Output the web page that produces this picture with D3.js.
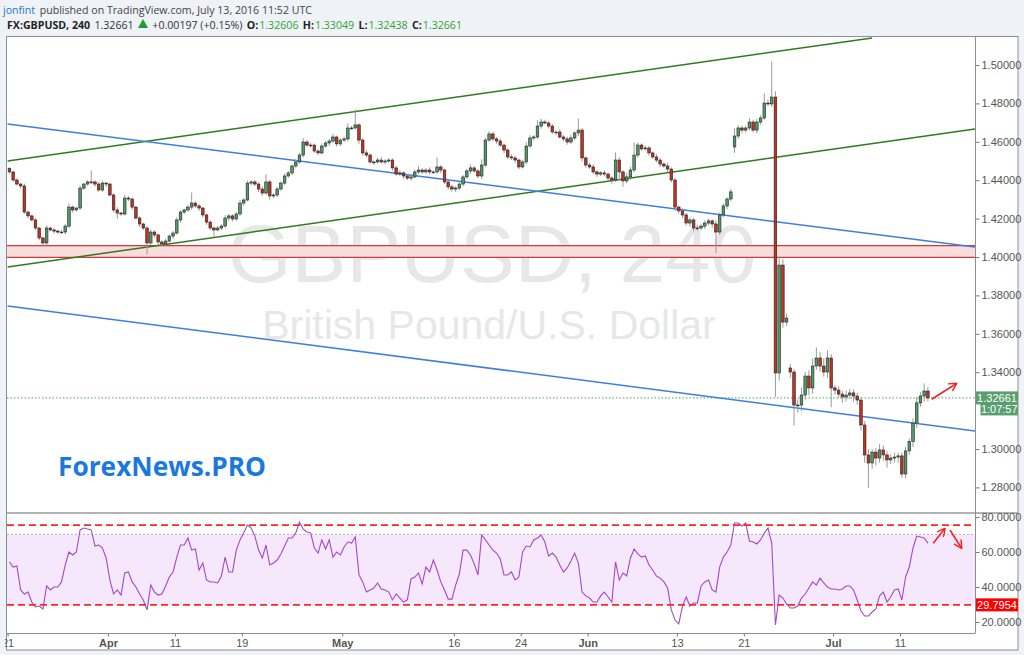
<!DOCTYPE html>
<html><head><meta charset="utf-8">
<script src="https://cdn.jsdelivr.net/npm/d3@7"></script>
<style>
html,body{margin:0;padding:0;background:#eff2f6;}
svg{display:block;font-family:"Liberation Sans",Arial,sans-serif;}
</style></head><body>
<svg id="c" width="1024" height="655"></svg>
<script>
// ---------------- DATA ----------------
const barsPerDay = 3;           // candles per trading day
const firstOpen = 1.4460;
const closes = [
1.4443,1.4401,1.4380,1.4370,1.4234,1.4214,1.4193,1.4151,1.4099,1.4073,
1.4151,1.4141,1.4135,1.4130,1.4130,1.4161,1.4260,1.4245,1.4255,1.4359,
1.4380,1.4391,1.4391,1.4380,1.4349,1.4385,1.4380,1.4323,1.4245,1.4229,
1.4224,1.4307,1.4302,1.4260,1.4203,1.4172,1.4151,1.4073,1.4130,1.4115,
1.4078,1.4068,1.4083,1.4109,1.4125,1.4193,1.4234,1.4245,1.4260,1.4281,
1.4266,1.4255,1.4219,1.4182,1.4151,1.4141,1.4151,1.4161,1.4203,1.4214,
1.4198,1.4224,1.4281,1.4297,1.4385,1.4391,1.4380,1.4354,1.4333,1.4391,
1.4318,1.4323,1.4354,1.4385,1.4422,1.4438,1.4474,1.4495,1.4531,1.4599,
1.4583,1.4583,1.4552,1.4542,1.4578,1.4594,1.4604,1.4625,1.4589,1.4609,
1.4615,1.4672,1.4672,1.4688,1.4609,1.4542,1.4531,1.4495,1.4495,1.4505,
1.4495,1.4500,1.4505,1.4464,1.4432,1.4438,1.4422,1.4411,1.4417,1.4443,
1.4453,1.4443,1.4453,1.4443,1.4443,1.4469,1.4453,1.4391,1.4365,1.4354,
1.4359,1.4380,1.4417,1.4448,1.4464,1.4448,1.4422,1.4479,1.4609,1.4641,
1.4615,1.4604,1.4583,1.4557,1.4521,1.4516,1.4505,1.4469,1.4495,1.4578,
1.4620,1.4625,1.4682,1.4703,1.4698,1.4682,1.4651,1.4651,1.4625,1.4615,
1.4599,1.4620,1.4646,1.4661,1.4516,1.4479,1.4469,1.4443,1.4432,1.4438,
1.4432,1.4411,1.4401,1.4505,1.4443,1.4396,1.4417,1.4453,1.4531,1.4583,
1.4563,1.4568,1.4542,1.4521,1.4505,1.4484,1.4474,1.4458,1.4401,1.4260,
1.4240,1.4219,1.4177,1.4193,1.4151,1.4151,1.4161,1.4177,1.4188,1.4172,
1.4130,1.4219,1.4266,1.4302,1.4339,1.4630,1.4672,1.4661,1.4672,1.4703,
1.4661,1.4703,1.4724,1.4802,1.4797,1.4833,1.3396,1.3958,1.3661,1.3682,
1.3401,1.3229,1.3229,1.3281,1.3380,1.3318,1.3432,1.3474,1.3432,1.3401,
1.3474,1.3318,1.3307,1.3286,1.3271,1.3281,1.3292,1.3276,1.3255,1.3125,
1.2969,1.2927,1.2984,1.2953,1.2995,1.2969,1.2943,1.2953,1.2958,1.2964,
1.2870,1.2990,1.3040,1.3135,1.3240,1.3276,1.3302,1.3266];
// weekend gap opens [candle index, open]
const gapOpens = [[195,1.4573],[210,1.3422]];
// wick extension beyond the body, in pips
const hiExt = [
8,6,10,5,12,7,6,9,5,8,14,6,9,7,10,12,18,8,6,14,
7,9,60,8,10,12,6,8,9,14,7,16,10,8,6,9,7,8,14,10,
6,9,12,8,10,14,9,7,11,55,8,10,7,6,9,8,12,10,14,9,
8,11,16,9,12,8,10,9,14,40,10,8,12,9,14,10,8,16,11,20,
9,12,8,10,14,9,11,16,8,10,12,24,10,80,8,10,14,9,8,12,
16,9,10,8,12,14,9,10,8,12,20,9,10,14,8,50,10,8,9,12,
10,14,9,12,18,8,10,30,12,14,9,10,12,8,9,14,10,8,12,20,
14,10,30,16,12,9,10,8,14,10,12,16,9,60,10,8,12,14,9,10,
12,8,10,40,14,10,20,16,65,14,9,12,10,8,14,12,10,16,9,12,
8,14,10,12,9,16,10,14,12,9,20,12,14,10,16,40,14,12,10,20,
12,16,14,50,18,185,30,40,30,24,20,16,30,40,20,30,40,55,30,40,
40,20,16,20,18,24,20,18,16,14,20,30,16,20,30,24,20,18,22,16,
18,20,16,24,30,20,40,20];
const loExt = [
6,10,8,12,9,14,8,10,12,20,9,8,14,10,8,12,10,14,9,8,
10,8,12,14,9,10,16,8,12,30,10,8,12,14,9,16,10,60,12,14,
16,12,10,8,14,9,12,10,8,14,10,16,12,14,10,35,8,12,10,14,
12,9,10,14,8,12,10,16,14,9,20,10,12,8,10,9,12,10,8,12,
10,14,9,12,8,10,16,9,14,10,8,12,10,9,20,14,12,10,16,9,
8,12,10,14,9,12,16,10,14,8,12,10,9,14,10,12,16,10,14,12,
16,10,12,8,14,10,12,16,10,9,12,14,10,16,12,10,14,12,8,10,
9,12,10,14,8,12,10,16,9,12,14,10,12,16,20,14,10,12,16,10,
12,14,20,10,45,30,12,16,10,14,12,9,14,10,12,16,10,14,12,20,
14,16,12,20,18,14,10,16,12,20,110,14,12,16,10,30,14,16,12,14,
12,16,14,10,12,16,125,40,30,20,30,107,40,30,24,40,30,20,30,24,
30,100,24,20,30,24,20,30,24,30,40,129,30,40,24,30,40,20,24,30,
20,24,20,30,24,20,30,18];
const rsi = [
54.3,51.4,52.0,38.3,36.0,37.1,31.4,28.6,29.1,27.4,
40.6,38.3,40.0,40.0,42.9,52.6,60.0,58.3,60.0,72.6,
73.7,73.1,72.6,63.4,64.0,62.3,56.6,44.0,36.0,38.3,
35.4,48.0,48.6,42.9,40.0,36.0,32.6,26.9,41.1,37.1,
35.4,36.0,40.6,45.7,48.6,57.1,64.0,64.0,68.0,61.1,
61.7,49.7,53.7,44.0,42.9,42.9,42.3,46.3,57.1,48.6,
48.6,61.1,66.9,70.9,75.4,73.7,69.1,61.1,56.6,64.0,
52.6,53.7,55.4,58.9,63.4,68.0,68.0,70.9,77.1,73.1,
71.4,70.9,62.3,59.4,66.9,61.7,66.9,57.1,60.0,58.3,
62.9,65.7,65.1,68.6,46.9,42.9,37.1,38.3,39.4,42.3,
38.9,38.3,37.1,32.6,36.0,33.7,31.4,32.6,44.6,45.7,
48.0,41.7,51.4,48.6,55.4,49.7,42.9,38.3,33.1,33.1,
41.1,47.4,61.1,61.1,58.3,53.1,46.9,69.7,66.9,64.0,
61.1,59.4,56.0,46.9,46.9,48.6,44.0,45.7,60.0,63.4,
62.9,66.9,68.0,69.7,65.7,57.7,59.4,57.1,52.6,48.6,
50.9,54.9,59.4,53.7,37.1,34.9,33.7,31.4,31.4,34.9,
37.1,34.3,31.4,54.3,44.0,48.0,46.3,56.6,61.7,58.9,
57.1,57.7,52.6,49.7,46.3,45.1,42.9,39.4,26.9,21.1,
18.9,29.1,34.3,29.1,30.9,30.9,40.6,42.9,44.0,38.3,
37.1,51.4,57.1,60.0,64.0,76.6,76.6,74.9,76.6,66.3,
65.7,64.6,66.9,70.9,73.7,65.1,18.3,35.4,33.7,30.3,
28.0,28.0,29.1,33.7,36.0,39.4,42.9,41.1,45.1,42.3,
40.0,38.9,38.9,38.3,38.9,40.6,40.6,38.3,32.6,26.3,
23.4,23.4,25.7,27.4,34.9,37.1,31.4,34.3,38.3,38.9,
32.6,45.7,51.4,62.3,69.1,68.6,68.0,65.1];

// x-axis ticks (trading-day index) and labels
const tickDays   = [0, 9, 15, 21, 30, 40, 46, 52, 60, 66, 74, 80];
const tickLabels = ["21","Apr","11","19","May","16","24","Jun","13","21","Jul","11"];
const monthTicks = ["Apr","May","Jun","Jul"];
// 1.32000 is hidden behind the countdown label in the reference
const priceTicks = [1.28,1.30,1.34,1.36,1.38,1.40,1.42,1.44,1.46,1.48,1.50];
const rsiTicks = [20,40,60,80];

// header segments: [text, bold, colour]
const publishParts = [["jonfint",0,"#2a79c4"],["published on TradingView.com, July 13, 2016 11:52 UTC",0,"#444"]];
const quoteParts = [
  ["FX:GBPUSD, 240",1,"#222"],["1.32661",0,"#333"],["TRI",0,"#1f9e2c"],["+0.00197 (+0.15%)",0,"#333"],
  ["O:",1,"#222"],["1.32606",0,"#2aa52a"],["H:",1,"#222"],["1.33049",0,"#2aa52a"],
  ["L:",1,"#222"],["1.32438",0,"#2aa52a"],["C:",1,"#222"],["1.32661",0,"#2aa52a"]];

// drawings: [day, price]
const greenUpper = [[0,1.4500],[77.5,1.5141]];
const greenLower = [[0,1.3948],[86.72,1.4667]];
const blueUpper  = [[0,1.4693],[86.72,1.4052]];
const blueLower  = [[0,1.3745],[86.72,1.3094]];
const zone = [1.3998, 1.4059];
const lastPrice = 1.32661;
const rsiLevels = [75.4, 29.7954];
const rsiBand = [30, 70];
const arrowMain = [[82.84,1.3259],[85.08,1.3342]];
const arrowRsiUp = [[82.98,65.0],[84.03,73.5]];
const arrowRsiDown = [[84.48,72.6],[85.53,62.1]];

// ---------------- LAYOUT ----------------
const L = 7, R = 975, T = 37, MB = 512, RT = 514, RB = 633;
const svg = d3.select("#c");
const x  = d3.scaleLinear().domain([9, 80]).range([108, 900]);
const y  = d3.scaleLinear().domain([1.28, 1.50]).range([487.4, 65]);
const yr = d3.scaleLinear().domain([20, 80]).range([622, 517]);

// frame
svg.append("rect").attr("x",6.5).attr("y",36.5).attr("width",1011.5).attr("height",613.5)
  .attr("fill","#fff").attr("stroke","#8e8e8e");

const defs = svg.append("defs");
defs.append("clipPath").attr("id","cm").append("rect").attr("x",L).attr("y",T).attr("width",R-L).attr("height",MB-T);
defs.append("clipPath").attr("id","cr").append("rect").attr("x",L).attr("y",RT).attr("width",R-L).attr("height",RB-RT);
defs.append("clipPath").attr("id","cx").append("rect").attr("x",5).attr("y",RB).attr("width",1013).attr("height",17);
defs.append("marker").attr("id","ah").attr("viewBox","0 0 10 10").attr("refX",9).attr("refY",5)
  .attr("markerWidth",9).attr("markerHeight",9).attr("orient","auto").attr("markerUnits","userSpaceOnUse")
  .append("path").attr("d","M0,0 L9,5 L0,10").attr("fill","none").attr("stroke","#ff1a1a").attr("stroke-width",1.6);

// header: lay segments out one after another, scaled to span x0..x1
const hdr = svg.append("g").attr("font-family","'Open Sans','Noto Sans',sans-serif");
function headerLine(parts, x0, x1, yb, gap){
  const triW = 10; let fs = 12;
  const nodes = parts.map(p => p[0]==="TRI" ? null :
    hdr.append("text").attr("y",yb).attr("font-size",fs).attr("font-weight",p[1]?"bold":"normal")
      .attr("fill",p[2]).text(p[0]));
  const widths = () => nodes.map(n => n ? n.node().getComputedTextLength() : triW);
  const joinGap = i => parts[i][0].endsWith(":") ? 1 : gap;
  const gapsSum = parts.slice(0,-1).reduce((a,_,i)=>a+joinGap(i),0);
  let w = widths();
  fs = fs * (x1-x0-gapsSum) / w.reduce((a,b)=>a+b,0);
  nodes.forEach(n=>n && n.attr("font-size",fs));
  w = widths();
  const spare = (x1-x0) - w.reduce((a,b)=>a+b,0);
  let cx = x0;
  parts.forEach((p,i)=>{
    if (nodes[i]) nodes[i].attr("x",cx);
    else hdr.append("path").attr("d",`M${cx},${yb-0.5} L${cx+triW},${yb-0.5} L${cx+triW/2},${yb-9.5} Z`).attr("fill",p[2]);
    cx += w[i] + (i < parts.length-1 ? joinGap(i)*spare/gapsSum : 0);
  });
}
headerLine(publishParts, 3, 312, 14, 4);
headerLine(quoteParts, 7, 462, 28.5, 4.5);

// ---------------- MAIN PANEL ----------------
const gm = svg.append("g").attr("clip-path","url(#cm)");
gm.append("text").attr("x",492).attr("y",282).attr("text-anchor","middle").attr("font-size",82)
  .attr("fill","#e7e7e7").text("GBPUSD, 240");
gm.append("text").attr("x",489).attr("y",339).attr("text-anchor","middle").attr("font-size",41)
  .attr("fill","#e7e7e7").text("British Pound/U.S. Dollar");

// zone
gm.append("rect").attr("x",L).attr("width",R-L).attr("y",y(zone[1])).attr("height",y(zone[0])-y(zone[1]))
  .attr("fill","#f9dcdc");
[zone[0],zone[1]].forEach(v=>gm.append("line").attr("x1",L).attr("x2",R).attr("y1",y(v)).attr("y2",y(v))
  .attr("stroke","#d23a3a").attr("stroke-width",1.2));

const lineGen = d3.line().x(d=>x(d[0])).y(d=>y(d[1]));
[[greenUpper,"#2f7a1f"],[greenLower,"#2f7a1f"],[blueUpper,"#3b7fe0"],[blueLower,"#3b7fe0"]].forEach(([pts,c])=>
  gm.append("path").attr("d",lineGen(pts)).attr("fill","none").attr("stroke",c).attr("stroke-width",1.5));

// last price dotted line
gm.append("line").attr("x1",L).attr("x2",R).attr("y1",y(lastPrice)).attr("y2",y(lastPrice))
  .attr("stroke","#4e9a6a").attr("stroke-dasharray","1.5,2").attr("stroke-width",1);

// candles
const candles = closes.map((c,i)=>{
  let o = i===0 ? firstOpen : closes[i-1];
  const g = gapOpens.find(g=>g[0]===i); if (g) o = g[1];
  const hi = Math.max(o,c) + (hiExt[i] ?? 8)/10000;
  const lo = Math.min(o,c) - (loExt[i] ?? 8)/10000;
  return {o,c,hi,lo,day:(i+0.5)/barsPerDay};
});
const bw = 2.6;
const cg = gm.append("g");
cg.selectAll("line.w").data(candles).join("line").attr("class","w")
  .attr("x1",d=>x(d.day)).attr("x2",d=>x(d.day)).attr("y1",d=>y(d.hi)).attr("y2",d=>y(d.lo))
  .attr("stroke","#9a9a9a").attr("stroke-width",1);
cg.selectAll("rect").data(candles).join("rect")
  .attr("x",d=>x(d.day)-bw/2).attr("width",bw)
  .attr("y",d=>y(Math.max(d.o,d.c)))
  .attr("height",d=>Math.max(0.8,Math.abs(y(d.o)-y(d.c))))
  .attr("fill",d=>d.c>=d.o?"#4f9c68":"#c2321f")
  .attr("stroke","#222").attr("stroke-width",0.6);

gm.append("path").attr("d",lineGen(arrowMain)).attr("stroke","#ff1a1a").attr("stroke-width",1.6)
  .attr("fill","none").attr("marker-end","url(#ah)");

// ForexNews
svg.append("text").attr("x",58).attr("y",476).attr("font-family","'Open Sans',sans-serif")
  .attr("font-weight","bold").attr("font-size",26).attr("fill","#1a78e0")
  .attr("textLength",208).attr("lengthAdjust","spacingAndGlyphs").text("ForexNews.PRO");

// ---------------- RSI PANEL ----------------
const gr = svg.append("g").attr("clip-path","url(#cr)");
gr.append("rect").attr("x",L).attr("width",R-L).attr("y",yr(rsiBand[1])).attr("height",yr(rsiBand[0])-yr(rsiBand[1]))
  .attr("fill","#f5e8fc");
gr.append("line").attr("x1",L).attr("x2",R).attr("y1",yr(rsiBand[1])).attr("y2",yr(rsiBand[1]))
  .attr("stroke","#c4adcb").attr("stroke-dasharray","2,2");
const rline = d3.line().x((d,i)=>x((i+0.5)/barsPerDay)).y(d=>yr(d));
gr.append("path").attr("d",rline(rsi)).attr("fill","none").attr("stroke","#a448c4").attr("stroke-width",1.1);
rsiLevels.forEach(v=>gr.append("line").attr("x1",L).attr("x2",R).attr("y1",yr(v)).attr("y2",yr(v))
  .attr("stroke","#ff2626").attr("stroke-width",1.8).attr("stroke-dasharray","7,4"));
const rl = d3.line().x(d=>x(d[0])).y(d=>yr(d[1]));
[arrowRsiUp,arrowRsiDown].forEach(a=>gr.append("path").attr("d",rl(a)).attr("stroke","#ff1a1a")
  .attr("stroke-width",1.6).attr("fill","none").attr("marker-end","url(#ah)"));

// ---------------- AXES ----------------
svg.append("line").attr("x1",6).attr("x2",1018).attr("y1",513).attr("y2",513).attr("stroke","#9a9a9a").attr("stroke-width",1.6);
svg.append("line").attr("x1",975.5).attr("x2",975.5).attr("y1",37).attr("y2",633).attr("stroke","#8e8e8e");
svg.append("line").attr("x1",6).attr("x2",975.5).attr("y1",633.5).attr("y2",633.5).attr("stroke","#8e8e8e");

const styleAxis = g => { g.select(".domain").remove();
  g.selectAll(".tick line").attr("stroke","#777");
  g.selectAll(".tick text").attr("fill","#555").attr("font-size",11).attr("font-family","'Liberation Sans',Arial,sans-serif"); };
svg.append("g").attr("transform","translate(975.5,0)")
  .call(d3.axisRight(y).tickValues(priceTicks).tickFormat(d3.format(".5f")).tickSize(4).tickPadding(2)).call(styleAxis);
svg.append("g").attr("transform","translate(975.5,0)")
  .call(d3.axisRight(yr).tickValues(rsiTicks).tickFormat(d3.format(".4f")).tickSize(4).tickPadding(2)).call(styleAxis);
const xa = svg.append("g").attr("clip-path","url(#cx)").append("g").attr("transform","translate(0,633.5)")
  .call(d3.axisBottom(x).tickValues(tickDays).tickFormat((d,i)=>tickLabels[i]).tickSize(3).tickPadding(3)).call(styleAxis);
xa.selectAll(".tick text").attr("font-weight",d=>monthTicks.includes(tickLabels[tickDays.indexOf(d)])?"bold":"normal");

// price labels
const lab = (txt,x0,y0,w,h,bg,c="#fff")=>{ svg.append("rect").attr("x",x0).attr("y",y0).attr("width",w).attr("height",h).attr("fill",bg);
  svg.append("text").attr("x",x0+w/2).attr("y",y0+h/2+4).attr("text-anchor","middle").attr("font-size",11).attr("fill",c).text(txt); };
lab(d3.format(".5f")(lastPrice),976,y(lastPrice)-6.5,42,13,"#5a9e6f");
lab("1:07:57",980.5,y(lastPrice)+5.5,37.5,12,"#5a9e6f");
lab(d3.format(".4f")(rsiLevels[1]),976,yr(rsiLevels[1])-6.5,42,13,"#ff0000");
</script></body></html>
